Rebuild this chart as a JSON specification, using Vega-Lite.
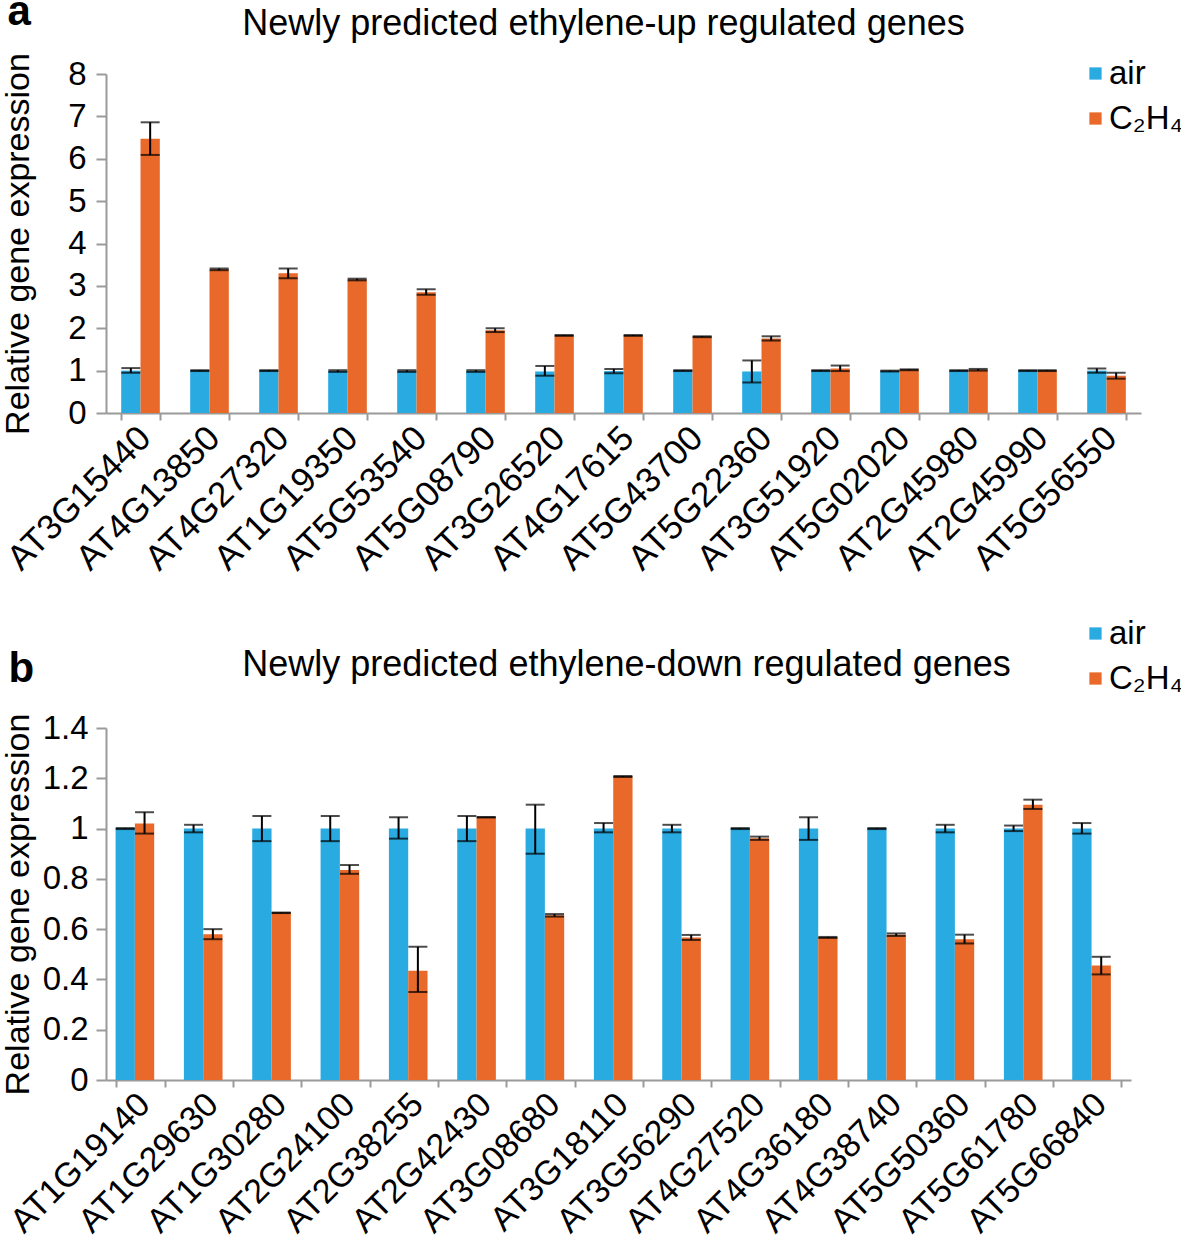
{
  "$schema": "https://vega.github.io/schema/vega-lite/v6.json",
  "padding": {"left": 0, "top": -10, "right": 0, "bottom": 0},
  "background": "white",
  "config": {"font": "Liberation Sans", "view": {"stroke": null}},
  "datasets": {
    "up": [
      {"gene": "AT3G15440", "series": "air", "value": 1.0, "lo": 0.95, "hi": 1.06},
      {"gene": "AT3G15440", "series": "C₂H₄", "value": 6.47, "lo": 6.09, "hi": 6.86},
      {"gene": "AT4G13850", "series": "air", "value": 1.0, "lo": 0.99, "hi": 1.01},
      {"gene": "AT4G13850", "series": "C₂H₄", "value": 3.39, "lo": 3.37, "hi": 3.41},
      {"gene": "AT4G27320", "series": "air", "value": 1.0, "lo": 0.99, "hi": 1.01},
      {"gene": "AT4G27320", "series": "C₂H₄", "value": 3.30, "lo": 3.18, "hi": 3.41},
      {"gene": "AT1G19350", "series": "air", "value": 0.99, "lo": 0.97, "hi": 1.01},
      {"gene": "AT1G19350", "series": "C₂H₄", "value": 3.15, "lo": 3.13, "hi": 3.17},
      {"gene": "AT5G53540", "series": "air", "value": 0.99, "lo": 0.97, "hi": 1.01},
      {"gene": "AT5G53540", "series": "C₂H₄", "value": 2.85, "lo": 2.79, "hi": 2.92},
      {"gene": "AT5G08790", "series": "air", "value": 0.99, "lo": 0.97, "hi": 1.01},
      {"gene": "AT5G08790", "series": "C₂H₄", "value": 1.95, "lo": 1.91, "hi": 2.0},
      {"gene": "AT3G26520", "series": "air", "value": 0.98, "lo": 0.88, "hi": 1.11},
      {"gene": "AT3G26520", "series": "C₂H₄", "value": 1.83, "lo": 1.82, "hi": 1.84},
      {"gene": "AT4G17615", "series": "air", "value": 0.99, "lo": 0.94, "hi": 1.04},
      {"gene": "AT4G17615", "series": "C₂H₄", "value": 1.83, "lo": 1.82, "hi": 1.84},
      {"gene": "AT5G43700", "series": "air", "value": 1.0, "lo": 0.99, "hi": 1.01},
      {"gene": "AT5G43700", "series": "C₂H₄", "value": 1.80, "lo": 1.79, "hi": 1.81},
      {"gene": "AT5G22360", "series": "air", "value": 0.98, "lo": 0.72, "hi": 1.24},
      {"gene": "AT5G22360", "series": "C₂H₄", "value": 1.76, "lo": 1.71, "hi": 1.81},
      {"gene": "AT3G51920", "series": "air", "value": 1.0, "lo": 0.99, "hi": 1.01},
      {"gene": "AT3G51920", "series": "C₂H₄", "value": 1.05, "lo": 0.99, "hi": 1.12},
      {"gene": "AT5G02020", "series": "air", "value": 0.99, "lo": 0.98, "hi": 1.0},
      {"gene": "AT5G02020", "series": "C₂H₄", "value": 1.02, "lo": 1.01, "hi": 1.03},
      {"gene": "AT2G45980", "series": "air", "value": 1.0, "lo": 0.99, "hi": 1.01},
      {"gene": "AT2G45980", "series": "C₂H₄", "value": 1.02, "lo": 1.0, "hi": 1.04},
      {"gene": "AT2G45990", "series": "air", "value": 1.0, "lo": 0.99, "hi": 1.01},
      {"gene": "AT2G45990", "series": "C₂H₄", "value": 1.0, "lo": 0.99, "hi": 1.01},
      {"gene": "AT5G56550", "series": "air", "value": 1.0, "lo": 0.95, "hi": 1.05},
      {"gene": "AT5G56550", "series": "C₂H₄", "value": 0.88, "lo": 0.81, "hi": 0.95}
    ],
    "down": [
      {"gene": "AT1G19140", "series": "air", "value": 1.0, "lo": 0.998, "hi": 1.002},
      {"gene": "AT1G19140", "series": "C₂H₄", "value": 1.02, "lo": 0.98, "hi": 1.065},
      {"gene": "AT1G29630", "series": "air", "value": 1.0, "lo": 0.985, "hi": 1.015},
      {"gene": "AT1G29630", "series": "C₂H₄", "value": 0.58, "lo": 0.56, "hi": 0.60},
      {"gene": "AT1G30280", "series": "air", "value": 1.0, "lo": 0.95, "hi": 1.05},
      {"gene": "AT1G30280", "series": "C₂H₄", "value": 0.665, "lo": 0.664, "hi": 0.666},
      {"gene": "AT2G24100", "series": "air", "value": 1.0, "lo": 0.95, "hi": 1.05},
      {"gene": "AT2G24100", "series": "C₂H₄", "value": 0.835, "lo": 0.82, "hi": 0.855},
      {"gene": "AT2G38255", "series": "air", "value": 1.0, "lo": 0.96, "hi": 1.045},
      {"gene": "AT2G38255", "series": "C₂H₄", "value": 0.435, "lo": 0.35, "hi": 0.53},
      {"gene": "AT2G42430", "series": "air", "value": 1.0, "lo": 0.95, "hi": 1.05},
      {"gene": "AT2G42430", "series": "C₂H₄", "value": 1.045, "lo": 1.044, "hi": 1.046},
      {"gene": "AT3G08680", "series": "air", "value": 1.0, "lo": 0.9, "hi": 1.095},
      {"gene": "AT3G08680", "series": "C₂H₄", "value": 0.655, "lo": 0.65, "hi": 0.66},
      {"gene": "AT3G18110", "series": "air", "value": 1.0, "lo": 0.985, "hi": 1.022},
      {"gene": "AT3G18110", "series": "C₂H₄", "value": 1.207, "lo": 1.205, "hi": 1.209},
      {"gene": "AT3G56290", "series": "air", "value": 1.0, "lo": 0.985, "hi": 1.015},
      {"gene": "AT3G56290", "series": "C₂H₄", "value": 0.567, "lo": 0.557, "hi": 0.577},
      {"gene": "AT4G27520", "series": "air", "value": 1.0, "lo": 0.998, "hi": 1.002},
      {"gene": "AT4G27520", "series": "C₂H₄", "value": 0.962, "lo": 0.955, "hi": 0.968},
      {"gene": "AT4G36180", "series": "air", "value": 1.0, "lo": 0.955, "hi": 1.045},
      {"gene": "AT4G36180", "series": "C₂H₄", "value": 0.567, "lo": 0.565, "hi": 0.569},
      {"gene": "AT4G38740", "series": "air", "value": 1.0, "lo": 0.998, "hi": 1.002},
      {"gene": "AT4G38740", "series": "C₂H₄", "value": 0.578, "lo": 0.573, "hi": 0.583},
      {"gene": "AT5G50360", "series": "air", "value": 1.0, "lo": 0.985, "hi": 1.015},
      {"gene": "AT5G50360", "series": "C₂H₄", "value": 0.56, "lo": 0.543, "hi": 0.578},
      {"gene": "AT5G61780", "series": "air", "value": 1.0, "lo": 0.99, "hi": 1.012},
      {"gene": "AT5G61780", "series": "C₂H₄", "value": 1.095, "lo": 1.078, "hi": 1.115},
      {"gene": "AT5G66840", "series": "air", "value": 1.0, "lo": 0.98, "hi": 1.022},
      {"gene": "AT5G66840", "series": "C₂H₄", "value": 0.455, "lo": 0.42, "hi": 0.49}
    ]
  },
  "spacing": 40,
  "resolve": {"scale": {"x": "independent", "y": "independent", "color": "independent"}, "legend": {"color": "independent"}},
  "vconcat": [
    {
      "data": {"name": "up"},
      "width": 1035,
      "height": 339,
      "resolve": {"axis": {"x": "independent", "y": "independent"}},
      "layer": [
        {
          "mark": {"type": "bar"},
          "encoding": {
            "x": {"field": "gene", "type": "nominal", "sort": null,
              "scale": {"paddingInner": 0.44, "paddingOuter": 0.22},
              "axis": {"orient": "bottom", "title": null, "labelAngle": -45, "labelFontSize": 35, "labelColor": "black", "labelLimit": 0, "labelOffset": -8, "labelPadding": 0, "tickBand": "extent", "tickSize": 7, "tickWidth": 2, "tickColor": "#9a9a9a", "domainColor": "#9a9a9a", "domainWidth": 2}},
            "xOffset": {"field": "series", "type": "nominal", "sort": ["air", "C₂H₄"], "scale": {"paddingInner": 0, "paddingOuter": 0}},
            "y": {"field": "value", "type": "quantitative", "scale": {"domain": [0, 8], "nice": false},
              "axis": {"title": "Relative gene expression", "titleFontSize": 34, "titleFontWeight": "normal", "titleColor": "black", "titleX": -78, "titleBaseline": "alphabetic", "values": [0, 1, 2, 3, 4, 5, 6, 7, 8], "labelFontSize": 33, "labelColor": "black", "labelPadding": 10, "tickSize": 10, "tickWidth": 2, "tickColor": "#9a9a9a", "domainColor": "#9a9a9a", "domainWidth": 2, "grid": false}},
            "color": {"field": "series", "type": "nominal", "scale": {"domain": ["air", "C₂H₄"], "range": ["#29ABE2", "#E8692A"]},
              "legend": {"orient": "none", "legendX": 973, "legendY": -17, "title": null, "symbolType": "square", "symbolSize": 150, "symbolStrokeWidth": 0, "labelFontSize": 33, "labelColor": "black", "labelLimit": 0, "rowPadding": 11, "labelOffset": -3}}
          }
        },
        {
          "mark": {"type": "rule", "color": "black", "strokeWidth": 2},
          "encoding": {
            "x": {"field": "gene", "type": "nominal", "sort": null,
              "axis": {"orient": "top", "title": "Newly predicted ethylene-up regulated genes", "labels": false, "ticks": false, "domain": false, "titleFontSize": 36, "titleFontWeight": "normal", "titleColor": "black", "titleLimit": 0, "titleX": 497, "titleY": -40, "titleAlign": "center", "titleBaseline": "alphabetic"}},
            "xOffset": {"field": "series", "type": "nominal", "sort": ["air", "C₂H₄"]},
            "y": {"field": "lo", "type": "quantitative",
              "axis": {"orient": "right", "title": "a", "labels": false, "ticks": false, "domain": false, "grid": false, "titleAngle": 0, "titleFontSize": 42, "titleFontWeight": "bold", "titleColor": "black", "titleX": -1134, "titleY": -50, "titleAlign": "left", "titleBaseline": "alphabetic"}},
            "y2": {"field": "hi"}
          }
        },
        {
          "mark": {"type": "tick", "color": "black", "size": 19, "thickness": 2},
          "encoding": {
            "x": {"field": "gene", "type": "nominal", "sort": null, "axis": null},
            "xOffset": {"field": "series", "type": "nominal", "sort": ["air", "C₂H₄"]},
            "y": {"field": "lo", "type": "quantitative", "axis": null}
          }
        },
        {
          "mark": {"type": "tick", "color": "black", "size": 19, "thickness": 2},
          "encoding": {
            "x": {"field": "gene", "type": "nominal", "sort": null, "axis": null},
            "xOffset": {"field": "series", "type": "nominal", "sort": ["air", "C₂H₄"]},
            "y": {"field": "hi", "type": "quantitative", "axis": null}
          }
        }
      ]
    },
    {
      "data": {"name": "down"},
      "width": 1025,
      "height": 352,
      "resolve": {"axis": {"x": "independent", "y": "independent"}},
      "layer": [
        {
          "mark": {"type": "bar"},
          "encoding": {
            "x": {"field": "gene", "type": "nominal", "sort": null,
              "scale": {"paddingInner": 0.28, "paddingOuter": 0.14},
              "axis": {"orient": "bottom", "title": null, "labelAngle": -45, "labelFontSize": 34, "labelColor": "black", "labelLimit": 0, "labelOffset": -8, "labelPadding": 0, "tickBand": "extent", "tickSize": 7, "tickWidth": 2, "tickColor": "#9a9a9a", "domainColor": "#9a9a9a", "domainWidth": 2}},
            "xOffset": {"field": "series", "type": "nominal", "sort": ["air", "C₂H₄"], "scale": {"paddingInner": 0, "paddingOuter": 0}},
            "y": {"field": "value", "type": "quantitative", "scale": {"domain": [0, 1.4], "nice": false},
              "axis": {"title": "Relative gene expression", "titleFontSize": 34, "titleFontWeight": "normal", "titleColor": "black", "titleX": -78, "titleBaseline": "alphabetic", "values": [0, 0.2, 0.4, 0.6, 0.8, 1, 1.2, 1.4], "format": "~g", "labelFontSize": 33, "labelColor": "black", "labelPadding": 8, "tickSize": 10, "tickWidth": 2, "tickColor": "#9a9a9a", "domainColor": "#9a9a9a", "domainWidth": 2, "grid": false}},
            "color": {"field": "series", "type": "nominal", "scale": {"domain": ["air", "C₂H₄"], "range": ["#29ABE2", "#E8692A"]},
              "legend": {"orient": "none", "legendX": 973, "legendY": -111, "title": null, "symbolType": "square", "symbolSize": 150, "symbolStrokeWidth": 0, "labelFontSize": 33, "labelColor": "black", "labelLimit": 0, "rowPadding": 11, "labelOffset": -3}}
          }
        },
        {
          "mark": {"type": "rule", "color": "black", "strokeWidth": 2},
          "encoding": {
            "x": {"field": "gene", "type": "nominal", "sort": null,
              "axis": {"orient": "top", "title": "Newly predicted ethylene-down regulated genes", "labels": false, "ticks": false, "domain": false, "titleFontSize": 36, "titleFontWeight": "normal", "titleColor": "black", "titleLimit": 0, "titleX": 520, "titleY": -53, "titleAlign": "center", "titleBaseline": "alphabetic"}},
            "xOffset": {"field": "series", "type": "nominal", "sort": ["air", "C₂H₄"]},
            "y": {"field": "lo", "type": "quantitative",
              "axis": {"orient": "right", "title": "b", "labels": false, "ticks": false, "domain": false, "grid": false, "titleAngle": 0, "titleFontSize": 42, "titleFontWeight": "bold", "titleColor": "black", "titleX": -1123, "titleY": -47, "titleAlign": "left", "titleBaseline": "alphabetic"}},
            "y2": {"field": "hi"}
          }
        },
        {
          "mark": {"type": "tick", "color": "black", "size": 19, "thickness": 2},
          "encoding": {
            "x": {"field": "gene", "type": "nominal", "sort": null, "axis": null},
            "xOffset": {"field": "series", "type": "nominal", "sort": ["air", "C₂H₄"]},
            "y": {"field": "lo", "type": "quantitative", "axis": null}
          }
        },
        {
          "mark": {"type": "tick", "color": "black", "size": 19, "thickness": 2},
          "encoding": {
            "x": {"field": "gene", "type": "nominal", "sort": null, "axis": null},
            "xOffset": {"field": "series", "type": "nominal", "sort": ["air", "C₂H₄"]},
            "y": {"field": "hi", "type": "quantitative", "axis": null}
          }
        }
      ]
    }
  ]
}
